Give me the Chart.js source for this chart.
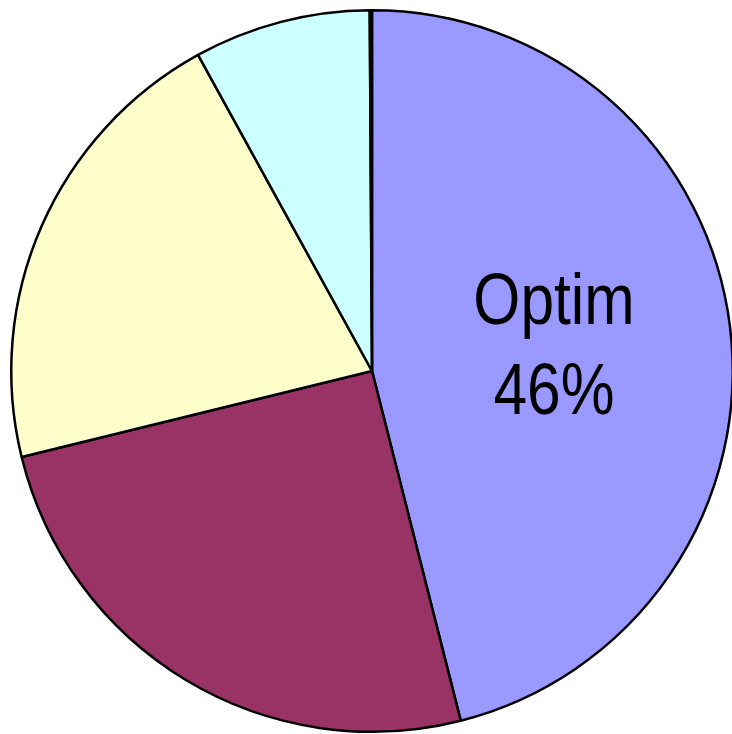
<!DOCTYPE html>
<html>
<head>
<meta charset="utf-8">
<script src="https://cdn.jsdelivr.net/npm/chart.js@4/dist/chart.umd.min.js"></script>
<style>
  html, body { margin: 0; padding: 0; background: #fff; overflow: hidden; }
  #wrap { width: 744px; height: 734px; position: relative; }
</style>
</head>
<body>
<div id="wrap"><canvas id="grafico"></canvas></div>
<script>
// --- dados do gráfico ---
const categorias = ['Optim', 'Categoria 2', 'Categoria 3', 'Categoria 4', 'Categoria 5'];
const valores = [46.0, 25.1, 20.8, 7.9, 0.1];
const cores = ['#9999FF', '#993366', '#FFFFCC', '#CCFFFF', '#FFFFFF'];
const rotulosVisiveis = [true, false, false, false, false];

// desenha "nome + %" dentro da fatia (fonte um pouco estreitada)
const rotulosPlugin = {
  id: 'rotulos',
  afterDatasetsDraw(chart) {
    const ctx = chart.ctx;
    const meta = chart.getDatasetMeta(0);
    const total = valores.reduce((a, b) => a + b, 0);
    meta.data.forEach((arco, i) => {
      if (!rotulosVisiveis[i]) return;
      const pos = arco.tooltipPosition();
      const pct = Math.round(valores[i] / total * 100) + '%';
      ctx.save();
      ctx.translate(pos.x + 3, pos.y);
      ctx.scale(0.84, 1);
      ctx.fillStyle = '#000';
      ctx.font = '72px "Liberation Sans", Arial, sans-serif';
      ctx.textAlign = 'center';
      ctx.textBaseline = 'middle';
      ctx.fillText(categorias[i], 0, -45);
      ctx.fillText(pct, 0, 45);
      ctx.restore();
    });
  }
};

new Chart(document.getElementById('grafico'), {
  type: 'pie',
  data: {
    labels: categorias,
    datasets: [{
      data: valores,
      backgroundColor: cores,
      borderColor: '#000',
      borderWidth: 2.5
    }]
  },
  options: {
    responsive: true,
    maintainAspectRatio: false,
    animation: false,
    layout: { padding: { left: 10, right: 10, top: 9, bottom: 1 } },
    plugins: { legend: { display: false }, tooltip: { enabled: false } }
  },
  plugins: [rotulosPlugin]
});
</script>
</body>
</html>
